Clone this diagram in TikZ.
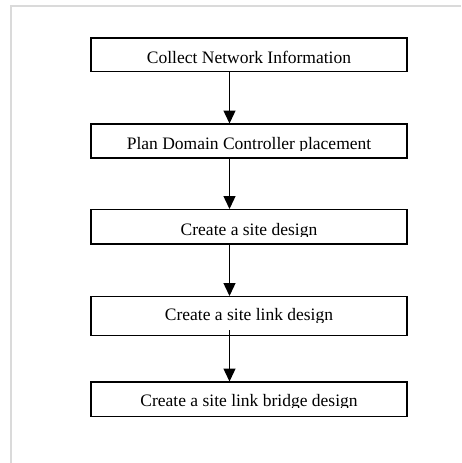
\documentclass[tikz,border=0pt]{standalone}
\usepackage{fontspec}
\setmainfont{Liberation Serif}
\usetikzlibrary{arrows.meta}
\definecolor{framegray}{HTML}{DADADA}
\begin{document}
\begin{tikzpicture}[x=1pt,y=-1pt,
  stepbox/.style={draw=black, line width=1.8pt, minimum width=316.6pt, inner sep=0pt, outer sep=0pt},
  txt/.style={font=\fontsize{17.5}{20}\selectfont, inner sep=0pt, anchor=base},
  arr/.style={line width=1.4pt, -{Triangle[width=12pt,length=13pt]}, shorten >=0.5pt},
  frame/.style={draw=framegray, line width=2pt}]
\useasboundingbox (0,0) rectangle (461,463);
% frame
\draw[frame] (10,6) -- (461,6);
\draw[frame] (11,5) -- (11,463);
% boxes
\node[stepbox, minimum height=33.5pt] (b1) at (249,54.75) {};
\node[stepbox, minimum height=34pt] (b2) at (249,141) {};
\node[stepbox, minimum height=34.5pt] (b3) at (249,226.75) {};
\node[stepbox, minimum height=39pt] (b4) at (249,316) {};
\node[stepbox, minimum height=34.5pt] (b5) at (249,399.25) {};
% texts (descenders clipped as in the picture)
\begin{scope}\clip (92,39) rectangle (406,65);
\node[txt] (t1) at (249,63.3) {Collect Network Information};\end{scope}
\begin{scope}\clip (92,125) rectangle (406,150.5);
\node[txt] (t2) at (249,149.3) {Plan Domain Controller placement};\end{scope}
\begin{scope}\clip (92,211) rectangle (406,236.3);
\node[txt] (t3) at (249,235) {Create a site design};\end{scope}
\begin{scope}\clip (92,298) rectangle (406,322);
\node[txt] (t4) at (249,320.7) {Create a site link design};\end{scope}
\begin{scope}\clip (92,383) rectangle (406,407.5);
\node[txt] (t5) at (249,406.2) {Create a site link bridge design};\end{scope}
% connectors
\coordinate (ax) at (229.5,0);
\draw[arr] (b1.south -| ax) -- (b2.north -| ax);
\draw[arr] (b2.south -| ax) -- (b3.north -| ax);
\draw[arr] (b3.south -| ax) -- (b4.north -| ax);
\draw[arr] ([yshift=5.5pt]b4.south -| ax) -- (b5.north -| ax);
\end{tikzpicture}
\end{document}
